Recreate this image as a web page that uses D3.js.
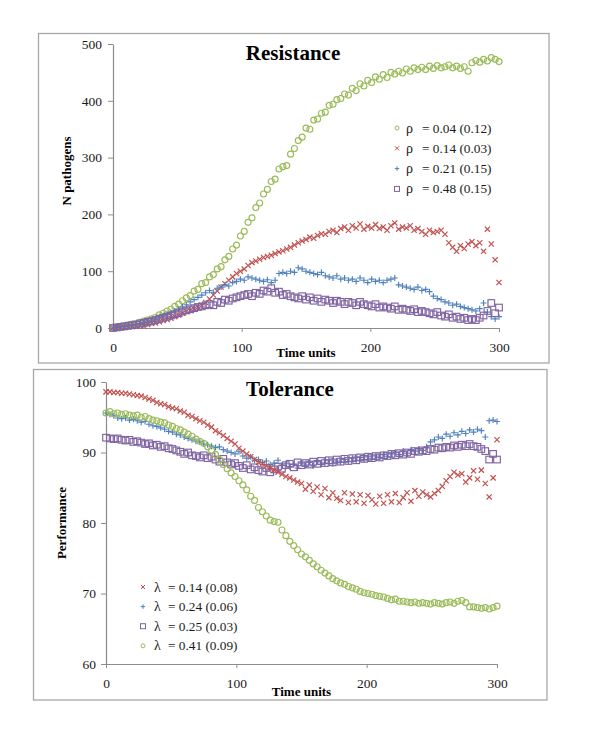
<!DOCTYPE html>
<html><head><meta charset="utf-8">
<script src="https://cdn.jsdelivr.net/npm/d3@7"></script>
<style>
body{margin:0;background:#fff}
text{font-family:"Liberation Serif","Times New Roman",serif}
</style>
</head><body>
<svg id="c" width="600" height="733"></svg>
<script>
// ---------- data ----------
const timeSteps = d3.range(0, 301, 3); // time units 0..300

const resTicksX = [0, 100, 200, 300];
const resTicksY = [0, 100, 200, 300, 400, 500];
const tolTicksX = [0, 100, 200, 300];
const tolTicksY = [60, 70, 80, 90, 100];

// Resistance: N pathogens
const resRho004 = [1,2,3,4,5,7,8,10,12,14,
  16,19,23,26,30,33,38,42,48,53,
  57,65,68,78,80,90,94,104,108,120,
  126,139,146,162,170,186,194,212,220,236,
  244,258,262,280,284,286,306,316,330,336,
  352,350,366,368,378,380,392,394,402,404,
  412,410,422,418,430,426,436,432,442,438,
  446,441,450,447,452,449,456,452,458,455,
  459,455,461,457,462,458,460,463,458,461,
  457,460,452,467,471,468,473,470,476,473,
  469];
const resRho014 = [0,0,1,1,2,2,3,4,3,6,
  8,9,11,13,15,17,20,23,26,29,
  31,34,37,40,45,51,58,65,72,78,
  84,90,96,100,104,110,115,118,121,124,
  126,128,131,134,136,139,142,146,150,153,
  156,160,158,163,166,165,170,172,168,175,
  178,172,180,176,183,174,179,176,182,175,
  178,172,180,185,174,178,176,180,172,175,
  170,165,172,168,170,172,165,150,142,135,
  145,140,148,152,145,150,135,174,148,120,
  80];
const resRho021 = [0,1,2,3,4,5,7,8,10,12,
  14,16,19,21,24,27,30,33,37,41,
  46,50,54,58,62,66,63,70,72,76,
  74,80,82,86,84,90,88,86,84,82,
  85,80,84,96,98,96,100,98,106,104,
  100,98,96,94,98,92,90,88,92,86,
  88,84,86,82,88,84,80,86,82,84,
  80,84,86,88,76,74,72,70,68,72,
  66,68,64,56,52,50,46,44,40,42,
  38,36,34,32,30,34,44,28,20,16,
  20];
const resRho048 = [0,1,2,3,4,5,6,8,9,11,
  12,14,16,18,20,22,24,26,29,31,
  33,35,37,38,40,42,40,46,44,50,
  48,52,54,56,58,60,56,62,60,66,
  64,70,62,64,58,60,56,54,52,56,
  50,54,48,52,46,50,48,44,48,46,
  42,46,44,40,46,42,40,38,42,36,
  38,36,34,38,32,34,32,30,33,28,
  30,28,26,24,28,22,20,24,18,20,
  16,18,14,16,14,18,22,30,44,26,
  36];

// Tolerance: Performance
const tolLam014 = [98.6,98.6,98.5,98.5,98.4,98.4,98.3,98.2,98.1,98.0,
  97.8,97.6,97.4,97.1,96.9,96.8,96.5,96.3,96.2,95.9,
  95.7,95.3,95.1,94.8,94.5,94.3,93.9,93.6,93.1,92.8,
  92.4,92.0,91.6,91.2,90.6,90.2,89.8,89.4,89.0,88.6,
  88.4,88.1,87.8,87.5,87.2,86.9,86.6,86.4,86.1,85.8,
  85.6,84.8,85.4,84.5,85.1,84.0,84.9,83.6,84.3,83.5,
  83.2,84.3,82.9,84.1,83.0,84.0,82.8,83.9,83.3,82.7,
  83.8,82.8,84.0,83.0,84.2,82.9,83.6,84.3,83.1,84.6,
  83.8,84.4,84.0,83.7,84.2,84.6,85.2,86.0,86.6,87.2,
  86.8,87.0,85.8,86.4,87.4,86.2,87.5,85.6,83.7,86.4,
  91.8];
const tolLam024 = [95.6,95.4,95.2,94.9,94.8,94.9,94.6,94.7,94.5,94.3,
  94.4,94.0,93.8,93.7,93.5,93.3,93.0,92.9,92.6,92.5,
  92.2,92.0,91.8,91.6,91.5,91.2,91.1,90.9,90.7,90.8,
  90.4,90.2,90.0,89.8,90.1,89.5,89.2,89.4,88.9,89.0,
  88.6,88.8,88.3,88.5,88.9,88.2,88.4,88.0,88.3,87.8,
  88.5,88.2,88.6,88.1,88.7,88.3,88.5,88.9,88.4,88.8,
  88.6,89.0,88.7,89.2,88.9,89.3,89.0,89.4,89.1,89.5,
  89.3,89.7,89.4,89.8,90.0,89.7,90.2,89.9,90.4,90.2,
  90.5,90.3,90.8,91.5,91.8,92.2,92.0,92.6,92.3,92.8,
  92.5,93.0,92.7,93.2,92.9,93.3,93.1,92.2,94.5,94.6,
  94.4];
const tolLam025 = [92.1,92.0,91.9,92.0,91.8,91.7,91.8,91.5,91.6,91.4,
  91.2,91.3,91.0,91.1,90.8,90.9,90.6,90.5,90.3,90.1,
  89.8,90.0,89.6,89.5,89.3,89.6,89.2,89.4,89.0,88.7,
  89.1,88.6,88.3,88.5,88.1,87.8,88.2,87.6,87.9,87.5,
  87.3,87.8,87.2,87.6,88.0,87.7,88.2,88.4,87.9,88.6,
  88.2,88.5,88.3,88.7,88.4,88.8,88.5,88.9,88.6,89.0,
  88.7,89.1,88.8,89.2,88.9,89.3,89.1,89.4,89.2,89.5,
  89.3,89.6,89.5,89.8,89.6,89.9,89.7,90.0,89.8,90.2,
  90.1,90.3,90.2,90.5,90.4,90.7,90.6,90.8,90.7,91.0,
  90.8,91.1,90.9,91.2,90.9,90.8,90.5,90.2,89.0,89.8,
  89.0];
const tolLam041 = [95.6,95.8,95.5,95.6,95.4,95.5,95.3,95.2,95.3,95.0,
  95.1,94.8,94.6,94.5,94.3,94.2,93.9,93.7,93.4,93.2,
  92.9,92.6,92.3,91.9,91.6,91.3,90.8,90.3,89.7,89.0,
  88.3,87.7,87.1,86.6,86.0,85.4,84.7,83.8,83.2,82.2,
  81.6,81.0,80.4,80.2,80.1,79.0,78.2,77.4,76.8,76.2,
  75.6,75.2,74.7,74.2,73.8,73.3,72.9,72.5,72.1,71.8,
  71.5,71.3,71.0,70.8,70.6,70.3,70.1,70.0,69.9,69.7,
  69.6,69.5,69.3,69.1,69.2,68.9,68.9,68.8,68.7,68.8,
  68.6,68.7,68.6,68.5,68.7,68.6,68.5,68.7,68.8,68.6,
  68.9,69.0,68.7,68.1,68.1,68.0,67.9,68.0,67.8,68.0,
  68.2];

const resLabels = ["= 0.04 (0.12)", "= 0.14 (0.03)", "= 0.21 (0.15)", "= 0.48 (0.15)"];
const tolLabels = ["= 0.14 (0.08)", "= 0.24 (0.06)", "= 0.25 (0.03)", "= 0.41 (0.09)"];

// ---------- styles ----------
const GREEN = "#9BBB59", RED = "#C0504D", BLUE = "#4F81BD", PURPLE = "#8064A2";
const AXIS = "#8c8c8c", FRAME = "#a8a8a8", TXT = "#1a1a1a";
const SERIF = "'Liberation Serif', 'Times New Roman', serif";

const svg = d3.select("#c");
svg.append("rect").attr("width", 600).attr("height", 733).attr("fill", "#fff");

function drawMarker(g, shape, color, s, w) {
  if (shape === "circle") {
    g.append("circle").attr("r", s).attr("fill", "none").attr("stroke", color).attr("stroke-width", w);
  } else if (shape === "x") {
    g.append("path").attr("d", `M${-s},${-s}L${s},${s}M${-s},${s}L${s},${-s}`)
      .attr("stroke", color).attr("stroke-width", w).attr("fill", "none");
  } else if (shape === "plus") {
    g.append("path").attr("d", `M${-s},0H${s}M0,${-s}V${s}`)
      .attr("stroke", color).attr("stroke-width", w).attr("fill", "none");
  } else if (shape === "square") {
    g.append("rect").attr("x", -s).attr("y", -s).attr("width", 2 * s).attr("height", 2 * s)
      .attr("fill", "none").attr("stroke", color).attr("stroke-width", w);
  }
}
const markerSize = {circle: 3.0, x: 2.6, plus: 3.0, square: 3.3};
const legendSize = {circle: 2.0, x: 2.0, plus: 2.2, square: 2.5};

function panel(cfg) {
  svg.append("rect").attr("x", cfg.frame[0]).attr("y", cfg.frame[1])
    .attr("width", cfg.frame[2]).attr("height", cfg.frame[3])
    .attr("fill", "none").attr("stroke", FRAME).attr("stroke-width", 1.3);

  const x = d3.scaleLinear().domain([0, 300]).range(cfg.xr);
  const y = d3.scaleLinear().domain(cfg.yd).range(cfg.yr);

  const ax = svg.append("g").attr("transform", `translate(0,${cfg.yr[0]})`)
    .call(d3.axisBottom(x).tickValues(cfg.xt).tickSize(4).tickPadding(10).tickSizeOuter(0));
  const ay = svg.append("g").attr("transform", `translate(${cfg.xr[0]},0)`)
    .call(d3.axisLeft(y).tickValues(cfg.yt).tickSize(5).tickPadding(cfg.yPad).tickSizeOuter(0));
  [ax, ay].forEach(a => {
    a.attr("font-family", SERIF).attr("font-size", 13.5);
    a.select(".domain").attr("stroke", AXIS).attr("stroke-width", 1.2);
    a.selectAll(".tick line").attr("stroke", AXIS).attr("stroke-width", 1);
    a.selectAll(".tick text").attr("fill", TXT).style("font-family", SERIF).style("font-size", "13.5px");
  });

  cfg.series.forEach(s => {
    const g = svg.append("g");
    s.values.forEach((v, i) => {
      const m = g.append("g").attr("transform", `translate(${x(timeSteps[i])},${y(v)})`);
      drawMarker(m, s.shape, s.color, markerSize[s.shape], 1.15);
    });
  });

  svg.append("text").attr("x", cfg.title[1]).attr("y", cfg.title[2])
    .attr("text-anchor", "middle").attr("font-weight", "bold").attr("font-size", 21)
    .attr("fill", "#000").text(cfg.title[0]);
  svg.append("text").attr("x", (cfg.xr[0] + cfg.xr[1]) / 2).attr("y", cfg.xlabY)
    .attr("text-anchor", "middle").attr("font-weight", "bold").attr("font-size", 13)
    .attr("fill", "#000").text("Time units");
  svg.append("text").attr("transform", `translate(${cfg.ylab[1]},${cfg.ylab[2]}) rotate(-90)`)
    .attr("text-anchor", "middle").attr("font-weight", "bold").attr("font-size", 13)
    .attr("fill", "#000").text(cfg.ylab[0]);

  cfg.legend.items.forEach((s, i) => {
    const cy = cfg.legend.y0 + i * cfg.legend.dy;
    const m = svg.append("g").attr("transform", `translate(${cfg.legend.xs},${cy})`);
    drawMarker(m, s.shape, s.color, legendSize[s.shape], 1);
    svg.append("text").attr("x", cfg.legend.xg).attr("y", cy + 4.5)
      .attr("font-size", 14).attr("fill", TXT).text(cfg.legend.sym);
    svg.append("text").attr("x", cfg.legend.xt).attr("y", cy + 4.5)
      .attr("font-size", 13.3).attr("fill", TXT).text(s.label);
  });
}

const resSeries = [
  {values: resRho004, shape: "circle", color: GREEN, label: resLabels[0]},
  {values: resRho014, shape: "x", color: RED, label: resLabels[1]},
  {values: resRho021, shape: "plus", color: BLUE, label: resLabels[2]},
  {values: resRho048, shape: "square", color: PURPLE, label: resLabels[3]}
];
panel({
  frame: [38.5, 33.5, 510.5, 329.5],
  xr: [113, 499], yd: [0, 500], yr: [328, 44],
  xt: resTicksX, yt: resTicksY, yPad: 6,
  series: resSeries,
  title: ["Resistance", 293, 60],
  xlabY: 357,
  ylab: ["N pathogens", 71, 171],
  legend: {items: resSeries, sym: "ρ", xs: 397, xg: 406, xt: 422, y0: 128, dy: 20.3}
});

const tolSeries = [
  {values: tolLam014, shape: "x", color: RED, label: tolLabels[0]},
  {values: tolLam024, shape: "plus", color: BLUE, label: tolLabels[1]},
  {values: tolLam025, shape: "square", color: PURPLE, label: tolLabels[2]},
  {values: tolLam041, shape: "circle", color: GREEN, label: tolLabels[3]}
];
panel({
  frame: [33.5, 369.5, 513.5, 330.5],
  xr: [106, 497], yd: [60, 100], yr: [664, 382],
  xt: tolTicksX, yt: tolTicksY, yPad: 5,
  series: [tolSeries[1], tolSeries[2], tolSeries[3], tolSeries[0]],
  title: ["Tolerance", 290, 396],
  xlabY: 696,
  ylab: ["Performance", 66, 523],
  legend: {items: tolSeries, sym: "λ", xs: 143, xg: 154, xt: 168, y0: 587, dy: 19.6}
});
</script>
</body></html>
